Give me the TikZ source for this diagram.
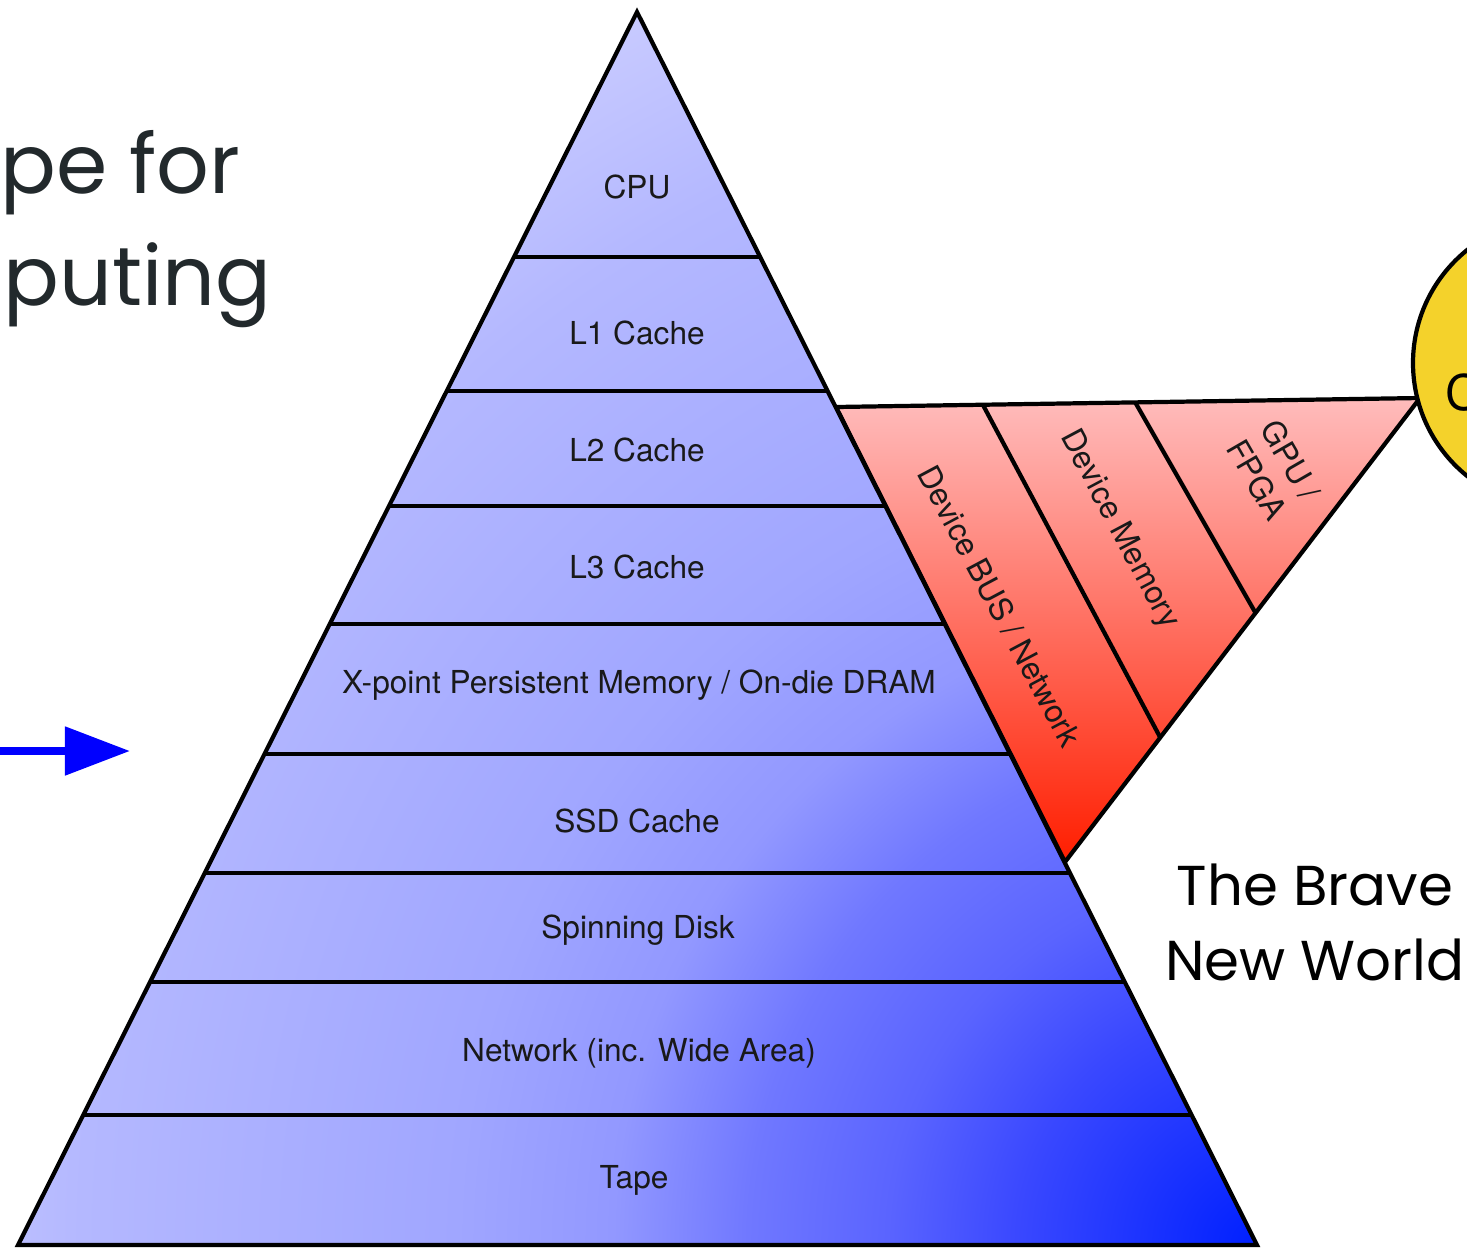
\documentclass[tikz,border=0pt]{standalone}
\usepackage{fontspec}
\setmainfont{Poppins}
\newfontfamily\helv{TeX Gyre Heros}
\usetikzlibrary{arrows.meta}

\definecolor{slate}{HTML}{22292C}
\definecolor{gold}{HTML}{F4D22B}
\definecolor{redtop}{HTML}{FFBCBC}
\definecolor{redbot}{HTML}{FF1E00}

% blue glow spreading out of the lower right corner of the pyramid
% (25bp is the rim of the shaded circle)
\pgfdeclareradialshading{pyrshade}{\pgfpointorigin}{%
  color(0bp)=(rgb,255:red,0;green,32;blue,255);
  color(4.3bp)=(rgb,255:red,58;green,72;blue,255);
  color(6.6bp)=(rgb,255:red,90;green,100;blue,255);
  color(9.1bp)=(rgb,255:red,112;green,120;blue,255);
  color(11.5bp)=(rgb,255:red,146;green,152;blue,255);
  color(14.3bp)=(rgb,255:red,160;green,166;blue,255);
  color(21bp)=(rgb,255:red,180;green,184;blue,255);
  color(25bp)=(rgb,255:red,202;green,204;blue,255);
  color(50bp)=(rgb,255:red,202;green,204;blue,255)}

\begin{document}
\begin{tikzpicture}[x=0.1mm,y=-0.1mm,
    lbl/.style={font=\helv\fontsize{9}{11}\selectfont, text=black!90},
    edge/.style={line width=1.2pt, line join=miter},
    bigtext/.style={font=\fontsize{16}{21}\selectfont, inner sep=0pt}]
    \useasboundingbox (0,0) rectangle (1467,1248);
    \clip (0,0) rectangle (1467,1248);

                        % corners of the pyramid and of the device wedge
                        \coordinate (apex) at (637,12);
                        \coordinate (bl) at (18,1245);
                        \coordinate (br) at (1257,1245);
                        \coordinate (ra) at (836,407);
                        \coordinate (rb) at (1420,398);
                        \coordinate (rc) at (1065,862);
                        \coordinate (d1t) at (983,405);
                        \coordinate (d1b) at (1160,737);
                        \coordinate (d2t) at (1135,402);
                        \coordinate (d2b) at (1255,612);

                    % device wedge
                    \shade [top color=redtop, bottom color=redbot] (ra) -- (rb) -- (rc) -- cycle;
                        \draw [edge] (ra) -- (rb) -- (rc) -- cycle;
                        \draw [edge] (d1t) -- (d1b) (d2t) -- (d2b);

                    % accelerator disc
                        \node (acc) at (1558,363) [circle, draw, edge, fill=gold, minimum size=2.9cm, inner sep=0pt] {};
                        \node (acclbl) at (1445,393) [anchor=west, inner sep=0pt, font=\helv\fontsize{14}{16}\selectfont] {C};

                    % pyramid
                    \begin{scope}
                        \clip (apex) -- (bl) -- (br) -- cycle;
                        \shade [shading=pyrshade] (br) circle [radius=1400];
                        \foreach \y in {257,391,506,624,754,873,982,1115}
                            \draw [line width=1.3pt] (0,\y) -- (1467,\y);
                    \end{scope}
                        \draw [edge] (apex) -- (bl) -- (br) -- cycle;

                        \node (cpu) at (637,187) [lbl] {CPU};
                        \node (lone) at (637,333) [lbl] {L1 Cache};
                        \node (ltwo) at (637,450) [lbl] {L2 Cache};
                        \node (lthree) at (637,567) [lbl] {L3 Cache};
                        \node (xpoint) at (639,685) [lbl] {X-point Persistent Memory / On-die DRAM};
                        \node (ssd) at (637,821) [lbl] {SSD Cache};
                        \node (disk) at (638,930) [lbl] {Spinning Disk};
                        \node (net) at (639,1053) [lbl] {Network (inc. Wide Area)};
                        \node (tape) at (634,1180) [lbl] {Tape};

                        \node (bus) at (1000,606) [lbl, rotate=-62] {Device BUS / Network};
                        \node (devmem) at (1119,530) [lbl, rotate=-62] {Device Memory};
                        \node (gpu) at (1274,470) [lbl, rotate=-60, align=center] {GPU /\\FPGA};

                    % side texts
                        \node (titleone) at (0,193) [bigtext, anchor=base west, font=\fontsize{23.5}{28}\selectfont, text=slate] {pe for};
                        \node (titletwo) at (3,305) [bigtext, anchor=base west, font=\fontsize{23.5}{28}\selectfont, text=slate] {puting};
                        \node (braveone) at (1315,905) [bigtext, anchor=base] {The Brave};
                        \node (bravetwo) at (1315,980) [bigtext, anchor=base] {New World};

                    % pointer
                        \coordinate (ptail) at (-10,751);
                        \coordinate (phead) at (130,751);
                    \draw [blue, line width=2.3pt, -{Triangle[length=18.5pt, width=13.4pt]}] (ptail) -- (phead);

                    \end{tikzpicture}
\end{document}
